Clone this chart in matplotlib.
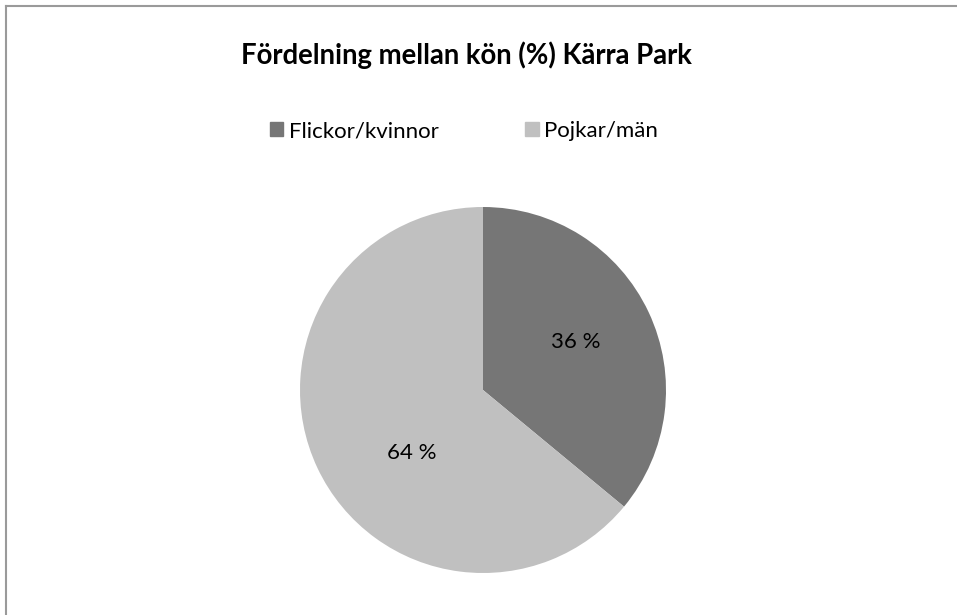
import matplotlib.pyplot as plt
from matplotlib.lines import Line2D

plt.rcParams['font.family'] = ['Lato', 'DejaVu Sans']

categories = ["Flickor/kvinnor", "Pojkar/män"]
values = [36, 64]
colors = ["#767676", "#c0c0c0"]
title = "Fördelning mellan kön (%) Kärra Park"

W, H = 957, 615
fig = plt.figure(figsize=(W / 100, H / 100), dpi=100)

# grey frame (only top and left visible)
fig.add_artist(Line2D([6 / W, 6 / W], [0, 1 - 6 / H], transform=fig.transFigure, color="#9a9a9a", lw=1.5))
fig.add_artist(Line2D([6 / W, 1], [1 - 6 / H, 1 - 6 / H], transform=fig.transFigure, color="#9a9a9a", lw=1.5))

# pie axes: center (483, 390), radius 183 px
cx, cy, r = 483, 390, 183
ax = fig.add_axes([(cx - r) / W, (H - cy - r) / H, 2 * r / W, 2 * r / H])
wedges, texts, autotexts = ax.pie(values, colors=colors, startangle=90, counterclock=False,
                                  autopct=lambda p: f"{p:.0f} %", pctdistance=0.58,
                                  textprops=dict(fontsize=16, color="black"))
ax.set_xlim(-1, 1)
ax.set_ylim(-1, 1)
ax.set_aspect("equal")
autotexts[0].set_position((93 / r, 48 / r))
autotexts[1].set_position((-71 / r, -63 / r))

fig.text(466 / W, 1 - 55 / H, title, ha="center", va="center", fontsize=19.8, fontweight="bold")

handles = [plt.Rectangle((0, 0), 1, 1, color=c) for c in colors]
fig.legend(handles, categories, loc="center", bbox_to_anchor=(464 / W, 1 - 131 / H), ncol=2,
           frameon=False, fontsize=16, handlelength=0.6, handleheight=0.6, handletextpad=0.25,
           columnspacing=3.9)

fig.savefig("out.png", dpi=100)
